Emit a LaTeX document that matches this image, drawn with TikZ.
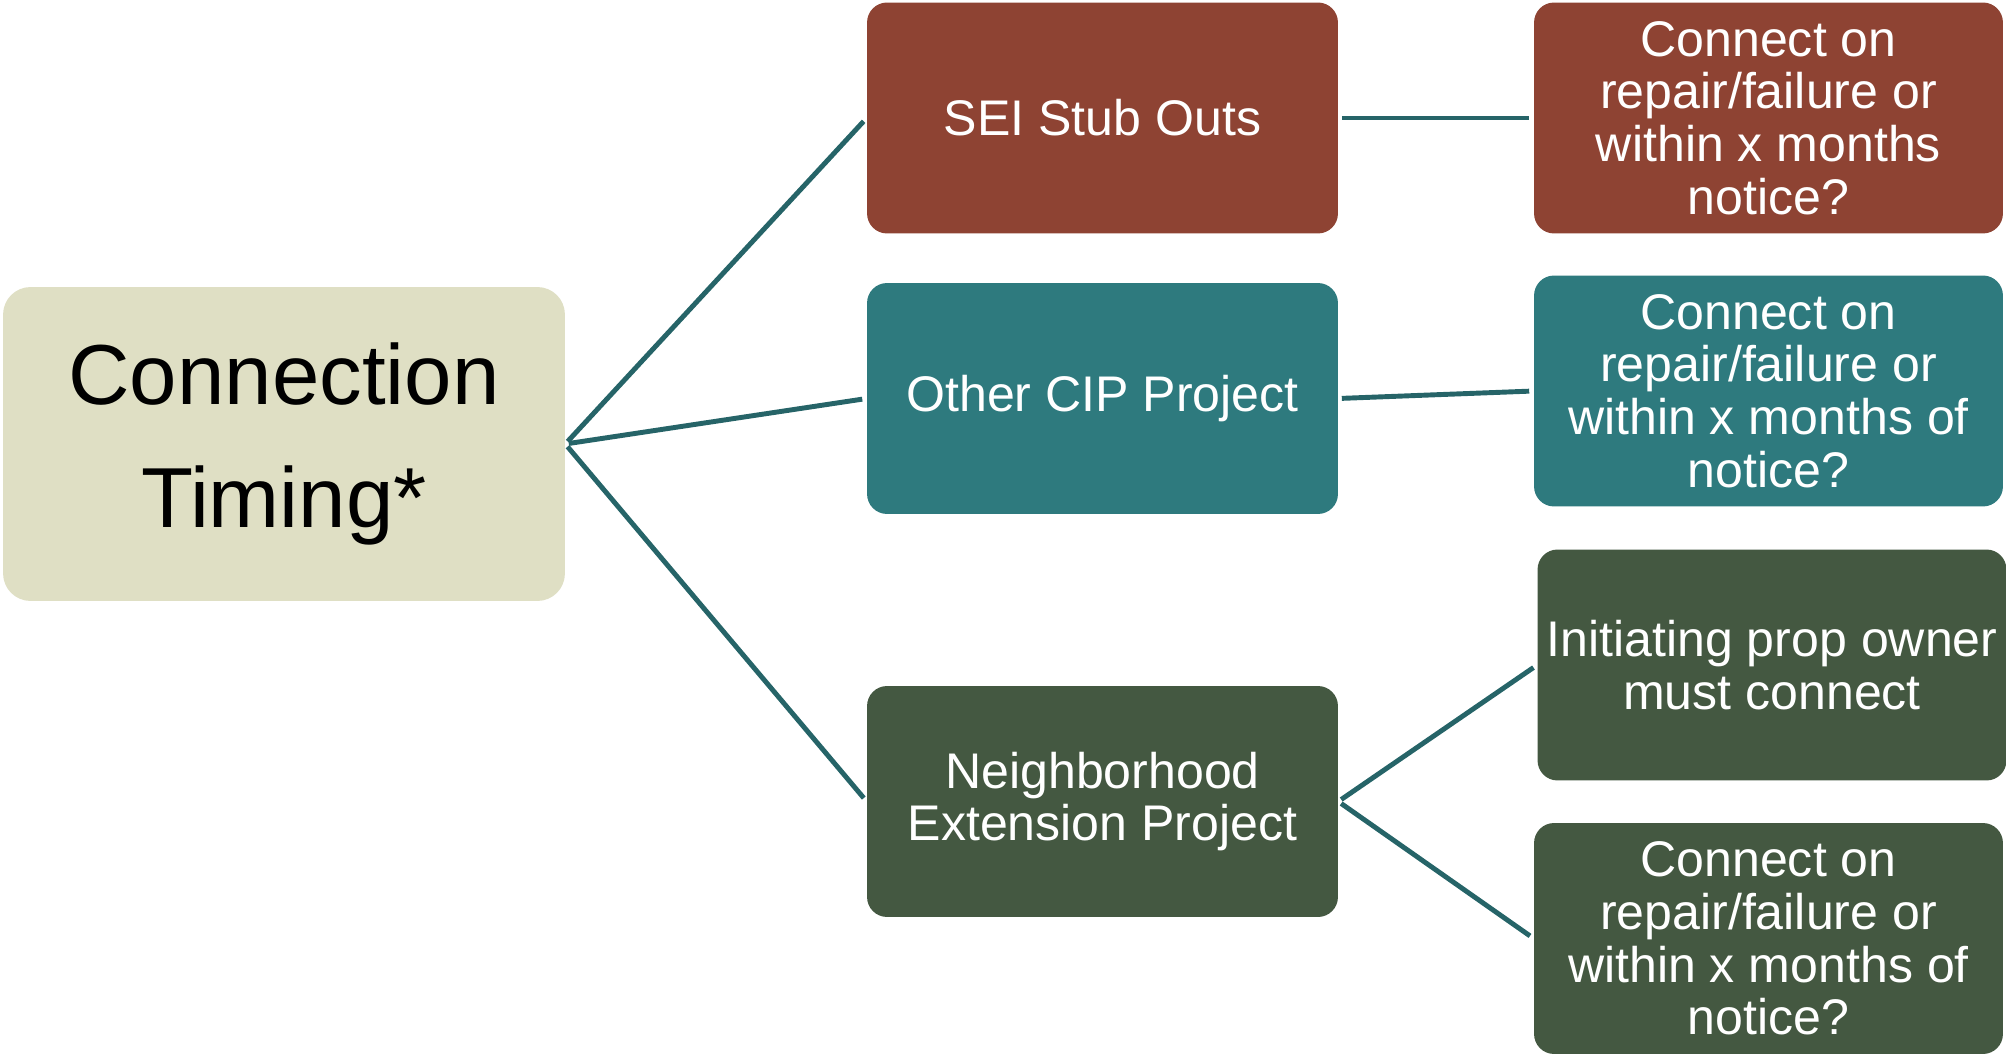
\documentclass[tikz,border=0pt]{standalone}
\usepackage{fontspec}
\setmainfont{Liberation Sans}
\definecolor{rootsand}{RGB}{223,223,196}
\definecolor{brick}{RGB}{142,67,51}
\definecolor{teal}{RGB}{46,122,126}
\definecolor{moss}{RGB}{68,88,65}
\definecolor{linkteal}{RGB}{38,100,104}
\begin{document}
\begin{tikzpicture}[
  x=0.02cm, y=-0.02cm,
  every node/.style = {shape=rectangle, rounded corners=0.4cm, align=center,
    inner sep=0pt, text=white, font=\fontsize{28.5}{30}\selectfont},
  mid/.style = {minimum width=9.42cm, minimum height=4.62cm},
  tip/.style = {minimum width=9.38cm, minimum height=4.62cm},
  link/.style = {draw=linkteal, line width=2.8pt, shorten <=0.07cm, shorten >=0.09cm}
  ]
  \useasboundingbox (0,0) rectangle (2006,1057);
  \node[fill=rootsand, text=black, rounded corners=0.55cm,
    minimum width=11.24cm, minimum height=6.28cm,
    font=\fontsize{48.5}{70}\selectfont] (timing) at (284,444) {Connection\\Timing*};

  \node[mid, fill=brick] (stub) at (1102.5,118) {SEI Stub Outs};
  \node[mid, fill=teal] (cip) at (1102.5,398.5) {Other CIP Project};
  \node[mid, fill=moss] (nbhd) at (1102.5,801.5) {Neighborhood\\Extension Project};

  \node[tip, fill=brick] (stubq) at (1768.5,118)
    {Connect on\\repair/failure or\\within x months\\notice?};
  \node[tip, fill=teal] (cipq) at (1768.5,391)
    {Connect on\\repair/failure or\\within x months of\\notice?};
  \node[tip, fill=moss] (owner) at (1772,665) {Initiating prop owner\\must connect};
  \node[tip, fill=moss] (nbhdq) at (1768.5,938.5)
    {Connect on\\repair/failure or\\within x months of\\notice?};

  \draw[link] (timing.east) -- (stub.west);
  \draw[link] (timing.east) -- (cip.west);
  \draw[link] (timing.east) -- (nbhd.west);
  \draw[link] (stub.east) -- (stubq.west);
  \draw[link] (cip.east) -- (cipq.west);
  \draw[link] (nbhd.east) -- (owner.west);
  \draw[link] (nbhd.east) -- (nbhdq.west);
\end{tikzpicture}
\end{document}
